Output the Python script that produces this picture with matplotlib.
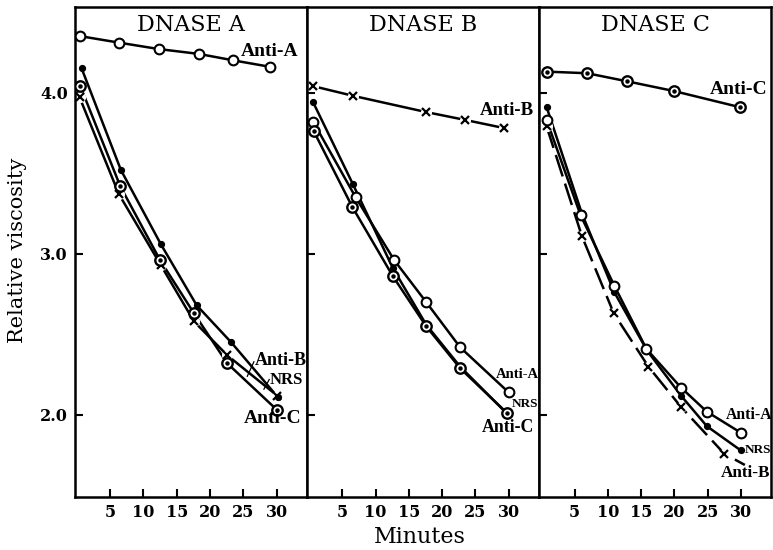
import matplotlib
matplotlib.use('Agg')
import matplotlib.pyplot as plt
import numpy as np

#données (minutes, viscosité relative)
#DNASE A
minA_antiA = [0.5, 6.3, 12.3, 18.3, 23.5, 29.0]
A_antiA = [4.35, 4.31, 4.27, 4.24, 4.20, 4.16]
minA_nrs = [0.7, 6.6, 12.6, 18.0, 23.2, 30.2]
A_nrs = [4.15, 3.52, 3.06, 2.68, 2.45, 2.11]
minA_antiC = [0.5, 6.5, 12.5, 17.6, 22.6, 30.1]
A_antiC = [4.04, 3.42, 2.96, 2.63, 2.32, 2.03]
minA_antiB = [0.4, 6.3, 12.6, 17.6, 22.6, 30.1]
A_antiB = [3.97, 3.37, 2.93, 2.58, 2.37, 2.12]

#DNASE B
minB_antiB = [0.6, 6.6, 17.5, 23.5, 29.3]
B_antiB = [4.04, 3.98, 3.88, 3.83, 3.78]
minB_nrs = [0.6, 6.6, 12.6, 17.6, 22.7, 29.7]
B_nrs = [3.94, 3.43, 2.91, 2.56, 2.30, 2.01]
minB_antiA = [0.6, 7.0, 12.8, 17.6, 22.7, 30.0]
B_antiA = [3.82, 3.35, 2.96, 2.70, 2.42, 2.14]
minB_antiC = [0.7, 6.5, 12.6, 17.6, 22.7, 29.8]
B_antiC = [3.76, 3.29, 2.86, 2.55, 2.29, 2.01]

#DNASE C
minC_antiC = [0.8, 6.9, 12.9, 19.9, 29.8]
C_antiC = [4.13, 4.12, 4.07, 4.01, 3.91]
minC_nrs = [0.8, 6.1, 11.0, 15.9, 21.0, 24.9, 30.0]
C_nrs = [3.91, 3.25, 2.76, 2.40, 2.12, 1.93, 1.78]
minC_antiA = [0.8, 5.9, 11.0, 15.8, 21.0, 24.9, 30.0]
C_antiA = [3.83, 3.24, 2.80, 2.41, 2.17, 2.02, 1.89]
minC_antiB = [0.8, 6.1, 10.9, 16.1, 21.0, 27.5, 30.6] #dernier point sans marqueur
C_antiB = [3.79, 3.11, 2.63, 2.30, 2.05, 1.76, 1.69]

titres = ['DNASE A', 'DNASE B', 'DNASE C']
xticks = [5, 10, 15, 20, 25, 30]
yticks = [2.0, 3.0, 4.0]
ytickLabels = ['2.0', '3.0', '4.0']

police = 'DejaVu Serif'
policeEtiq = 'Liberation Serif'
lw = 1.8

fig, axes = plt.subplots(1, 3, sharey=True, figsize=(7.73, 5.5), dpi=100)
plt.subplots_adjust(left=0.097, right=0.998, top=0.987, bottom=0.096, wspace=0)

#tracage d'une courbe avec le style de marqueur voulu
def courbe(ax, x, y, style, dash=None, nMarq=None):
    n = len(x) if nMarq is None else nMarq
    ligne, = ax.plot(x, y, color='black', lw=lw, zorder=2)
    if dash is not None:
        ligne.set_dashes(dash)
    if style == 'rond':
        ax.plot(x[:n], y[:n], 'o', ms=7, mfc='white', mec='black', mew=1.5, zorder=4)
    elif style == 'rondpoint':
        ax.plot(x[:n], y[:n], 'o', ms=7.5, mfc='white', mec='black', mew=1.7, zorder=4)
        ax.plot(x[:n], y[:n], 'o', ms=2.2, color='black', zorder=5)
    elif style == 'point':
        ax.plot(x[:n], y[:n], 'o', ms=4.2, color='black', zorder=4)
    elif style == 'croix':
        ax.plot(x[:n], y[:n], 'o', ms=8, mfc='white', mec='none', zorder=2.5)
        ax.plot(x[:n], y[:n], 'x', ms=5.5, mec='black', mew=1.6, zorder=3)

def etiquette(ax, x, y, txt, ha='left', taille=13.5):
    ax.text(x, y, txt, ha=ha, va='center', fontsize=taille, family=policeEtiq,
            fontweight='bold', zorder=6)

axA, axB, axC = axes

#DNASE A
courbe(axA, minA_antiB, A_antiB, 'croix')
courbe(axA, minA_antiA, A_antiA, 'rond')
courbe(axA, minA_nrs, A_nrs, 'point')
courbe(axA, minA_antiC, A_antiC, 'rondpoint')
etiquette(axA, 24.6, 4.255, 'Anti-A', taille=14)
etiquette(axA, 26.7, 2.34, 'Anti-B', taille=13)
etiquette(axA, 29.0, 2.22, 'NRS', taille=12)
etiquette(axA, 29.4, 1.98, 'Anti-C', ha='center', taille=14)
axA.plot([26.6, 25.6], [2.33, 2.24], color='black', lw=0.9, zorder=6)
axA.plot([28.9, 28.1], [2.22, 2.16], color='black', lw=0.9, zorder=6)

#DNASE B
courbe(axB, minB_antiB, B_antiB, 'croix')
courbe(axB, minB_nrs, B_nrs, 'point')
courbe(axB, minB_antiA, B_antiA, 'rond')
courbe(axB, minB_antiC, B_antiC, 'rondpoint')
etiquette(axB, 25.7, 3.89, 'Anti-B', taille=13.5)
etiquette(axB, 28.0, 2.25, 'Anti-A', taille=10.5)
etiquette(axB, 30.4, 2.07, 'NRS', taille=9.5)
etiquette(axB, 26.0, 1.92, 'Anti-C', taille=12.8)

#DNASE C
courbe(axC, minC_antiB, C_antiB, 'croix', dash=(9, 3), nMarq=6)
courbe(axC, minC_antiC, C_antiC, 'rondpoint')
courbe(axC, minC_nrs, C_nrs, 'point')
courbe(axC, minC_antiA, C_antiA, 'rond')
etiquette(axC, 25.3, 4.02, 'Anti-C', taille=14)
etiquette(axC, 27.7, 2.00, 'Anti-A', taille=11.3)
etiquette(axC, 30.6, 1.78, 'NRS', taille=9.5)
etiquette(axC, 27.0, 1.64, 'Anti-B', taille=12.3)

for i, ax in enumerate(axes):
    ax.set_xlim(-0.3, 34.6)
    ax.set_ylim(1.49, 4.53)
    ax.set_xticks(xticks)
    ax.set_xticklabels([str(t) for t in xticks], fontsize=11.5, family=police, fontweight='bold')
    ax.set_yticks(yticks)
    ax.tick_params(direction='in', length=6, width=1.5, top=False, right=False, pad=5)
    for s in ax.spines.values():
        s.set_linewidth(1.8)
    ax.text(0.5, 0.963, titres[i], transform=ax.transAxes, ha='center', va='center',
            fontsize=16, family=police)
axA.set_yticklabels(ytickLabels, fontsize=11.5, family=police, fontweight='bold')
axB.tick_params(labelleft=False)
axC.tick_params(labelleft=False)

fig.text(0.022, 0.545, 'Relative viscosity', rotation=90, ha='center', va='center',
         fontsize=15, family=police)
fig.text(0.543, 0.024, 'Minutes', ha='center', va='center', fontsize=16, family=police)

plt.savefig('out.png', dpi=100)
